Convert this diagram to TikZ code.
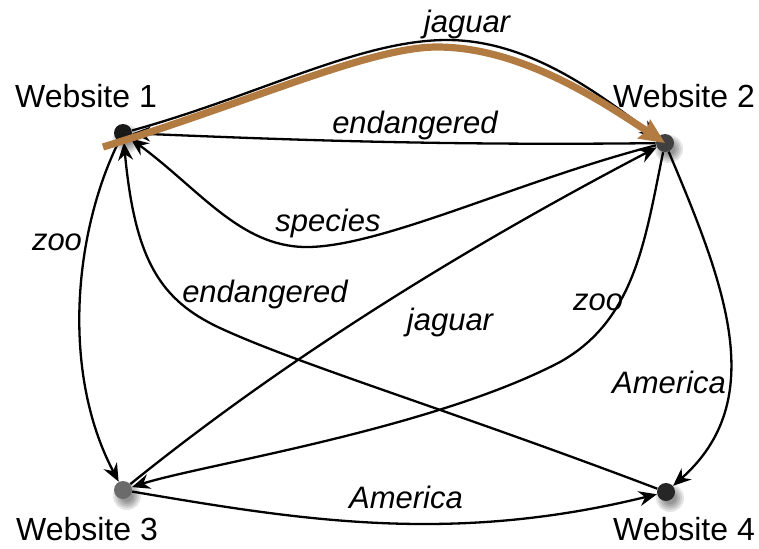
\documentclass[tikz,border=0pt]{standalone}
\usepackage{fontspec}
\setmainfont{Liberation Sans}
\usetikzlibrary{arrows.meta}
\definecolor{trail}{RGB}{178,123,66}
\begin{document}
\begin{tikzpicture}[x=0.5pt,y=-0.5pt,
  site/.style={circle,minimum size=9pt,inner sep=0pt},
  sitename/.style={font=\fontsize{16}{19}\selectfont,anchor=base,inner sep=0pt},
  term/.style={font=\fontsize{15.5}{18}\selectfont\itshape,anchor=base,inner sep=0pt},
  link/.style={line width=1.15pt,-{Stealth[length=9pt,width=7.5pt,inset=3pt]}},
  route/.style={trail,line width=3.6pt,-{Stealth[length=12.5pt,width=11pt,inset=1.5pt]}}
]
\useasboundingbox (0,0) rectangle (759,548);

% site positions
\coordinate (p1) at (123,133);
\coordinate (p2) at (665,143);
\coordinate (p3) at (123,490);
\coordinate (p4) at (666,492);

% soft shadows under the dots
\foreach \n in {p1,p2,p3,p4}{
  \foreach \r in {7,6,5,4,3}{
    \fill[black,opacity=0.1] ([shift={(4,6)}]\n) circle (\r pt);
  }
}

% sites
\node[site,fill=black!90] (w1) at (p1) {};
\node[site,fill=black!75] (w2) at (p2) {};
\node[site,fill=black!58] (w3) at (p3) {};
\node[site,fill=black!85] (w4) at (p4) {};

% site names
\node[sitename] (n1) at (86,107) {Website 1};
\node[sitename] (n2) at (684,107) {Website 2};
\node[sitename] (n3) at (87,540) {Website 3};
\node[sitename] (n4) at (684,540) {Website 4};

% links
\draw[link] (w1) .. controls (260,95) and (360,40) .. (447,40) .. controls (530,40) and (600,95) .. (w2);
\draw[link] (w2) .. controls (420,146) and (250,138) .. (w1);
\draw[link] (w2) .. controls (520,180) and (380,248) .. (305,247) .. controls (240,246) and (200,190) .. (w1);
\draw[link] (w1) .. controls (75,230) and (60,370) .. (w3);
\draw[link] (w4) .. controls (450,410) and (300,365) .. (220,328) .. controls (160,300) and (135,260) .. (w1);
\draw[link] (w3) .. controls (290,355) and (470,245) .. (w2);
\draw[link] (w2) .. controls (645,240) and (635,320) .. (560,362) .. controls (430,430) and (200,465) .. (w3);
\draw[link] (w2) .. controls (725,285) and (770,400) .. (w4);
\draw[link] (w3) .. controls (300,520) and (450,545) .. (w4);

% link terms
\node[term] (t1) at (467,32) {jaguar};
\node[term] (t2) at (415,133) {endangered};
\node[term] (t3) at (328,231) {species};
\node[term] (t4) at (57,250) {zoo};
\node[term] (t5) at (265,302) {endangered};
\node[term] (t6) at (450,330) {jaguar};
\node[term] (t7) at (598,310) {zoo};
\node[term] (t8) at (669,393) {America};
\node[term] (t9) at (406,508) {America};

% highlighted route
\coordinate (tstart) at (103,147);
\draw[route] (tstart) .. controls (250,102) and (370,47) .. (437,47) .. controls (520,47) and (600,100) .. (w2.center);
\end{tikzpicture}
\end{document}
